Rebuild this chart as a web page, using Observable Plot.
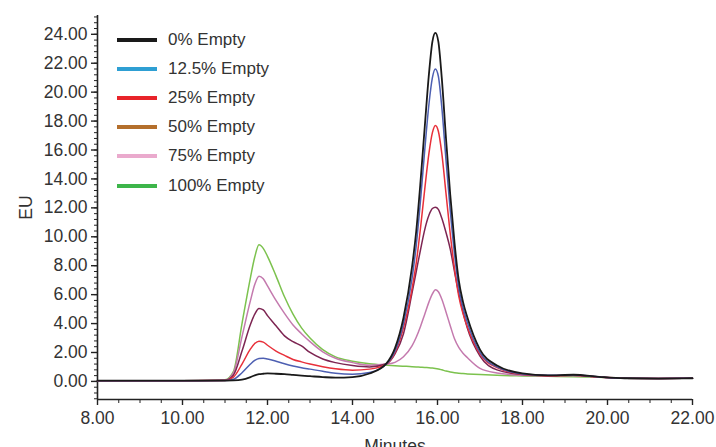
<!DOCTYPE html>
<html><head><meta charset="utf-8">
<script src="https://cdn.jsdelivr.net/npm/d3@7"></script>
<script src="https://cdn.jsdelivr.net/npm/@observablehq/plot@0.6"></script>
<style>
html,body{margin:0;padding:0;background:#fff;}
#wrap{position:relative;width:716px;height:447px;overflow:hidden;font-family:"Liberation Sans",Arial,sans-serif;}
#legend{position:absolute;left:117px;top:25px;}
.row{display:flex;align-items:center;height:29.2px;}
.sw{width:40px;height:4px;margin-right:11px;}
.lab{font-size:17px;color:#333;}
</style></head><body><div id="wrap"><div id="legend"></div></div>
<script>
// Retention time grid (minutes)
const minutes = [8, 10, 11, 11.2, 11.4, 11.6, 11.7, 11.8, 11.9, 12.0, 12.2, 12.4, 12.6, 12.8, 13.0, 13.3, 13.6, 14.0, 14.4, 14.8, 15.0, 15.2, 15.4, 15.5, 15.6, 15.7, 15.8, 15.88, 15.95, 16.02, 16.1, 16.2, 16.3, 16.4, 16.5, 16.6, 16.7, 17.0, 17.4, 18.0, 18.6, 19.2, 19.8, 20.4, 21.2, 22];

// EU signal per series
const empty0 = [0.05,0.05,0.06,0.07,0.12,0.3,0.42,0.5,0.53,0.55, 0.53,0.5,0.45,0.4,0.36,0.3,0.26,0.3,0.55,1.25, 2.3,4.4,7.9,10.4,13.8,17.6,21.3,23.5,24.1,23.5, 21.0,16.8,12.9,9.6,7.0,5.5,4.45,2.2,1.1,0.55, 0.42,0.46,0.32,0.22,0.2,0.22];
const empty12 = [0.05,0.05,0.06,0.15,0.6,1.2,1.45,1.58,1.6,1.55, 1.4,1.22,1.07,0.95,0.85,0.7,0.57,0.5,0.62,1.2, 2.1,4.0,7.1,9.4,12.5,16.0,19.2,21.0,21.6,21.1, 19.0,15.3,11.8,8.8,6.5,5.1,4.1,2.0,1.0,0.52, 0.42,0.44,0.31,0.22,0.2,0.22];
const empty25 = [0.05,0.05,0.07,0.3,1.2,2.25,2.62,2.78,2.72,2.5, 2.1,1.8,1.52,1.35,1.2,1.02,0.88,0.78,0.85,1.2, 2.0,3.7,6.4,8.2,10.6,13.3,15.8,17.2,17.7,17.3, 15.8,13.0,10.2,7.8,5.9,4.7,3.8,1.9,0.95,0.5, 0.4,0.43,0.3,0.22,0.2,0.22];
const empty50 = [0.05,0.05,0.08,0.45,2.1,3.95,4.65,5.05,4.95,4.55, 3.85,3.15,2.75,2.45,2.0,1.55,1.3,1.1,1.0,1.22, 1.9,3.3,6.1,7.6,9.1,10.5,11.5,11.95,12.05,11.9, 11.3,10.3,9.15,7.6,6.1,4.8,3.7,1.75,0.8,0.48, 0.4,0.42,0.3,0.22,0.2,0.22];
const empty75 = [0.05,0.05,0.08,0.6,3.1,5.6,6.7,7.28,7.1,6.6, 5.6,4.7,3.9,3.3,2.75,2.05,1.6,1.3,1.12,1.2, 1.32,1.7,2.45,3.05,3.8,4.65,5.5,6.05,6.34,6.2, 5.7,4.8,3.85,2.95,2.35,1.95,1.65,0.9,0.58,0.42, 0.38,0.4,0.3,0.22,0.2,0.22];
const empty100 = [0.05,0.05,0.12,0.7,4.0,7.2,8.6,9.45,9.2,8.65, 7.3,5.85,4.65,3.7,3.0,2.2,1.7,1.4,1.22,1.12, 1.08,1.05,1.02,1.0,0.98,0.96,0.95,0.93,0.9,0.86, 0.8,0.72,0.65,0.6,0.56,0.54,0.52,0.47,0.42,0.38, 0.35,0.32,0.28,0.22,0.2,0.22];

const seriesNames = ["0% Empty", "12.5% Empty", "25% Empty", "50% Empty", "75% Empty", "100% Empty"];
const seriesValues = [empty0, empty12, empty25, empty50, empty75, empty100];
const lineColors = ["#1a1a1a", "#4d5fb2", "#e8303a", "#7d2552", "#c47aae", "#7cc24e"];
const legendColors = ["#1a1a1a", "#2e9fd3", "#e8242a", "#b46f2c", "#eaaacd", "#3db54a"];

const xTicks = [8, 10, 12, 14, 16, 18, 20, 22];
const yTicks = [0, 2, 4, 6, 8, 10, 12, 14, 16, 18, 20, 22, 24];
const xDomain = [8, 22];
const yDomain = [-1.25, 25.3];

const xMinor = d3.range(8, 22.001, 0.5);
const yMinor = d3.range(-1.2, 25.3, 0.4);

const rows = [];
seriesNames.forEach((name, i) => {
  minutes.forEach((t, j) => rows.push({series: name, t, v: seriesValues[i][j]}));
});
// draw highest-percentage first so 0% sits on top
const order = seriesNames.slice().reverse();

const axisColor = "#222";
const plot = Plot.plot({
  width: 716,
  height: 447,
  marginLeft: 97,
  marginRight: 24,
  marginTop: 15,
  marginBottom: 48,
  style: {fontFamily: "'Liberation Sans', Arial, sans-serif", fontSize: "17.5px", color: "#333", background: "#fff"},
  x: {domain: xDomain, label: null},
  y: {domain: yDomain, label: null},
  color: {domain: seriesNames, range: lineColors},
  marks: [
    Plot.ruleX([xDomain[0]], {stroke: axisColor, strokeWidth: 1.6}),
    Plot.ruleY([yDomain[0]], {stroke: axisColor, strokeWidth: 1.6}),
    Plot.axisY(yMinor, {tickSize: 3, tickFormat: () => "", stroke: axisColor, label: null}),
    Plot.axisX(xMinor, {tickSize: 4, tickFormat: () => "", stroke: axisColor, label: null}),
    Plot.axisY(yTicks, {tickSize: 6, tickPadding: 4, tickFormat: d => d.toFixed(2), stroke: axisColor, strokeWidth: 1.4,
      label: "EU", labelAnchor: "center", labelOffset: 78, labelArrow: "none"}),
    Plot.axisX(xTicks, {tickSize: 6, tickPadding: 6, tickFormat: d => d.toFixed(2), stroke: axisColor, strokeWidth: 1.4,
      label: "Minutes", labelAnchor: "center", labelOffset: 52, labelArrow: "none"}),
    ...order.map(name => Plot.line(rows.filter(r => r.series === name), {
      x: "t", y: "v", stroke: "series", strokeWidth: name === "0% Empty" ? 1.8 : 1.5, curve: "monotone-x"
    }))
  ]
});
document.getElementById("wrap").prepend(plot);

const legend = document.getElementById("legend");
seriesNames.forEach((name, i) => {
  const row = document.createElement("div");
  row.className = "row";
  const sw = document.createElement("div");
  sw.className = "sw";
  sw.style.background = legendColors[i];
  const lab = document.createElement("span");
  lab.className = "lab";
  lab.textContent = name;
  row.append(sw, lab);
  legend.append(row);
});
</script></body></html>
